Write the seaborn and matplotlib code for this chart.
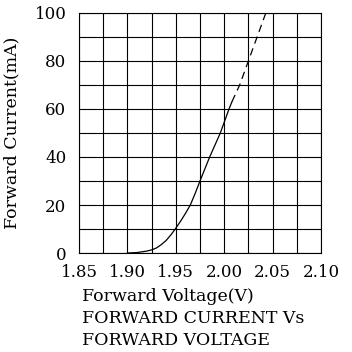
import numpy as np
import pandas as pd
import seaborn as sns
import matplotlib.pyplot as plt
from matplotlib.ticker import MultipleLocator

# measured curve (solid part)
volt_solid = [1.900, 1.910, 1.915, 1.920, 1.925, 1.930, 1.935, 1.940, 1.945, 1.950, 1.955,
              1.960, 1.965, 1.970, 1.975, 1.985, 1.996, 2.005, 2.008]
curr_solid = [0.0, 0.2, 0.5, 0.8, 1.3, 2.1, 3.5, 5.2, 7.6, 10.3, 13.3,
              16.5, 20.0, 24.8, 30.0, 40.0, 50.0, 60.0, 63.0]
# extrapolated part (dashed)
volt_dash = [2.008, 2.016, 2.025, 2.034, 2.043]
curr_dash = [63.0, 70.0, 80.0, 90.0, 100.0]

x_ticks = [1.85, 1.90, 1.95, 2.00, 2.05, 2.10]
y_ticks = [0, 20, 40, 60, 80, 100]

sns.set_style("white")
plt.rcParams['font.family'] = ['DejaVu Serif']
plt.rcParams['text.color'] = 'black'
plt.rcParams['axes.labelcolor'] = 'black'
plt.rcParams['xtick.color'] = 'black'
plt.rcParams['ytick.color'] = 'black'

fig = plt.figure(figsize=(3.52, 3.52), dpi=100)
ax = fig.add_axes([0.2244, 0.2812, 0.6875, 0.682])

df_solid = pd.DataFrame({'V': volt_solid, 'I': curr_solid})
df_dash = pd.DataFrame({'V': volt_dash, 'I': curr_dash})
sns.lineplot(x='V', y='I', data=df_solid, ax=ax, color='black', linewidth=0.9,
             sort=False, estimator=None)
sns.lineplot(x='V', y='I', data=df_dash, ax=ax, color='black', linewidth=0.9,
             sort=False, estimator=None, linestyle=(0, (6, 4)))

ax.set_xlim(1.85, 2.10)
ax.set_ylim(0, 100)
ax.set_xticks(x_ticks)
ax.set_xticklabels([f"{v:.2f}" for v in x_ticks])
ax.set_yticks(y_ticks)
ax.set_yticklabels([str(v) for v in y_ticks])
ax.xaxis.set_minor_locator(MultipleLocator(0.025))
ax.yaxis.set_minor_locator(MultipleLocator(10))
ax.grid(True, which='both', color='black', linewidth=0.8)
ax.tick_params(axis='y', which='both', length=0, labelsize=12, pad=9)
ax.tick_params(axis='x', which='both', length=0, labelsize=12, pad=8)
for s in ax.spines.values():
    s.set_color('black')
    s.set_linewidth(0.8)

ax.set_xlabel('')
ax.set_ylabel('Forward Current(mA)', fontsize=12.5, labelpad=10)

fig.text(0.233, 0.157, 'Forward Voltage(V)', fontsize=12.5, ha='left', va='center')
fig.text(0.233, 0.094, 'FORWARD CURRENT Vs', fontsize=12.5, ha='left', va='center')
fig.text(0.233, 0.034, 'FORWARD VOLTAGE', fontsize=12.5, ha='left', va='center')

plt.savefig('out.png', dpi=100)
